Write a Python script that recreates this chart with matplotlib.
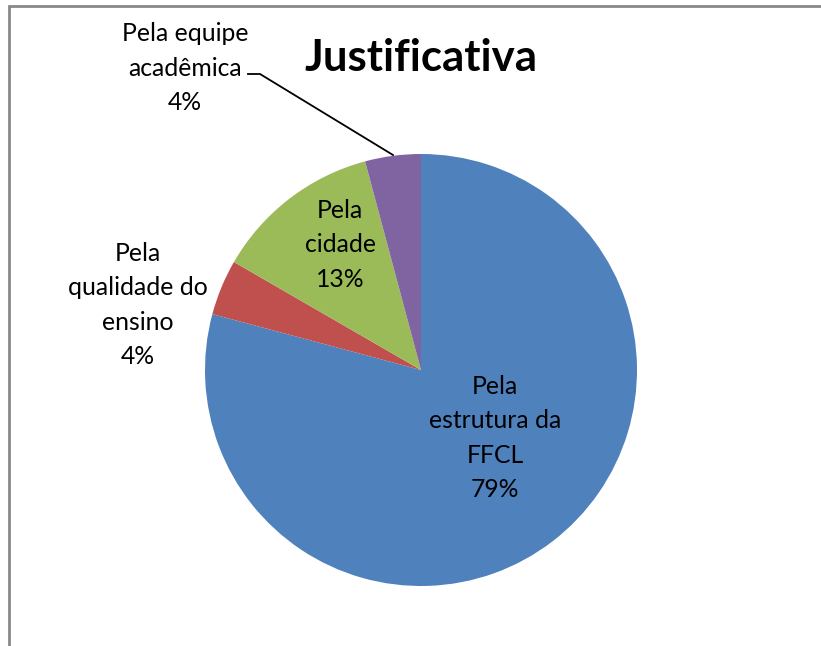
import matplotlib.pyplot as plt
from matplotlib.patches import Rectangle

# data (counts out of 24 answers)
labels = ["Pela\nestrutura da\nFFCL", "Pela\nqualidade do\nensino", "Pela\ncidade", "Pela equipe\nacadêmica"]
values = [19, 1, 3, 1]
colors = ["#4F81BD", "#C0504D", "#9BBB59", "#8064A2"]
pcts = ["79%", "4%", "13%", "4%"]

plt.rcParams['font.family'] = ['Lato', 'DejaVu Sans']

W, H = 821, 646
fig = plt.figure(figsize=(W / 100, H / 100), dpi=100)
ax = fig.add_axes([0, 0, 1, 1])

cx, cy, r = 421, H - 370, 216
ax.pie(values, colors=colors, startangle=90, counterclock=False,
       center=(cx, cy), radius=r, wedgeprops=dict(linewidth=0))

ax.set_xlim(0, W)
ax.set_ylim(0, H)
ax.set_aspect('auto')
ax.axis('off')

# chart frame (cut off at right and bottom)
ax.add_patch(Rectangle((9, -20), W + 20, H - 6 + 20, fill=False,
                       edgecolor="#898989", linewidth=2))

fs = 17.8
# label positions in pixel coordinates (x, y from top)
label_pos = [(495, 438), (138, 305), (340, 245), (185, 68)]
for lab, p, (lx, ly) in zip(labels, pcts, label_pos):
    ax.text(lx, H - ly, lab + "\n" + p, ha="center", va="center",
            fontsize=fs, linespacing=1.6, color="black")

# leader line for the purple slice
ax.plot([248, 260, 393], [H - 74, H - 74, H - 155], color="black", linewidth=1.3)

ax.text(421, H - 58, "Justificativa", ha="center", va="center",
        fontsize=31.5, fontweight="bold")

fig.savefig("out.png", dpi=100)
